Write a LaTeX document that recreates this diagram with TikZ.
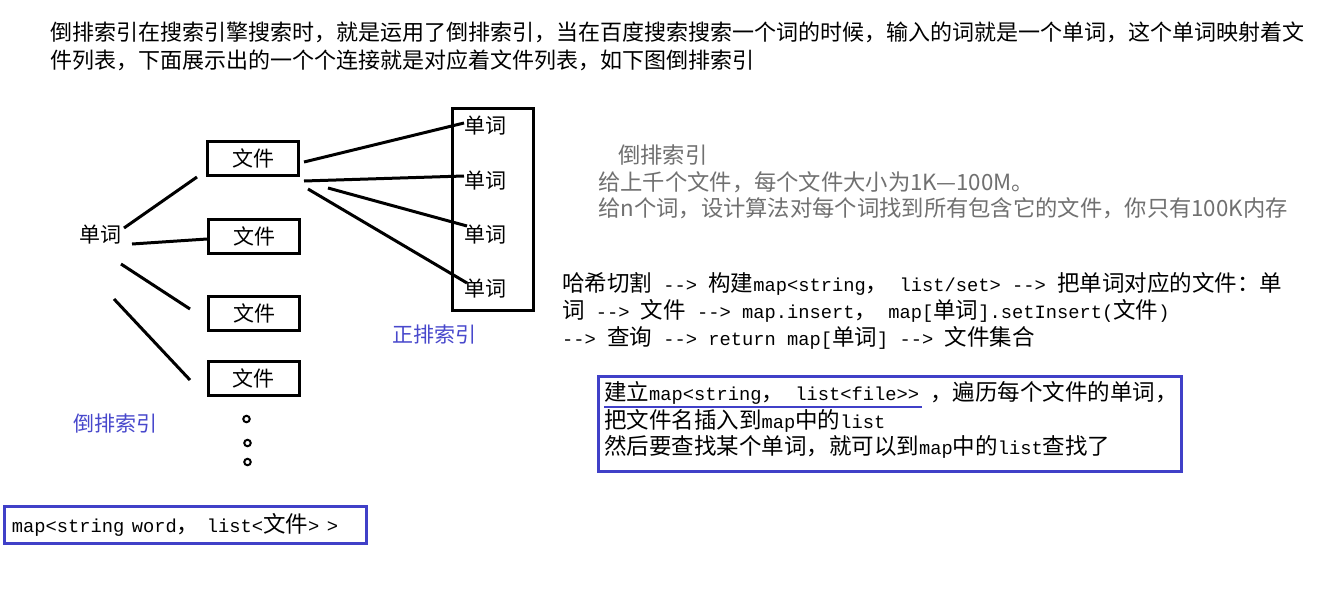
\documentclass[tikz,border=0pt]{standalone}
\usepackage{fontspec}
\setmainfont{Noto Sans CJK SC}
\newfontfamily\grayfont{Noto Sans CJK SC}
\setmonofont{Liberation Mono}[Scale=0.833]
\newcommand\arr{-\kern0pt-\kern0pt>}
\definecolor{idxblue}{RGB}{72,72,204}
\definecolor{boxblue}{RGB}{64,64,200}
\definecolor{notegray}{RGB}{112,112,112}
\tikzset{
  txt/.style={anchor=west, inner sep=0pt, font=\fontsize{22.5}{27}\selectfont},
  headtxt/.style={anchor=west, inner sep=0pt, font=\fontsize{22}{26}\selectfont},
  graytxt/.style={anchor=west, inner sep=0pt, text=notegray, font=\grayfont\fontsize{22.3}{26}\selectfont},
  filebox/.style={draw, line width=3pt, minimum width=91pt, minimum height=34pt, inner sep=0pt, font=\fontsize{21}{25}\selectfont},
  wordtxt/.style={inner sep=0pt, font=\fontsize{21}{25}\selectfont},
  bluelabel/.style={anchor=west, inner sep=0pt, text=idxblue, font=\fontsize{21}{25}\selectfont},
  link/.style={line width=3pt},
  framebox/.style={draw, line width=3pt, inner sep=0pt},
  bluebox/.style={draw=boxblue, line width=3pt, inner sep=0pt},
  dotmark/.style={circle, draw, line width=2pt, minimum size=6.5pt, inner sep=0pt},
}
\begin{document}
\begin{tikzpicture}[x=1pt,y=-1pt]
\useasboundingbox[fill=white] (0,0) rectangle (1329,600);

% header
\node[headtxt] (h1) at (50,32) {倒排索引在搜索引擎搜索时，就是运用了倒排索引，当在百度搜索搜索一个词的时候，输入的词就是一个单词，这个单词映射着文};
\node[headtxt] (h2) at (50,60) {件列表，下面展示出的一个个连接就是对应着文件列表，如下图倒排索引};

% left diagram
\node[wordtxt] (w) at (100,235) {单词};
\node[filebox] (f1) at (253,158.5) {文件};
\node[filebox] (f2) at (254,236.5) {文件};
\node[filebox] (f3) at (254,313) {文件};
\node[filebox] (f4) at (253.5,378) {文件};

\node[framebox, minimum width=81pt, minimum height=202pt] (rb) at (493,209.5) {};
\node[wordtxt] (r1) at (485.5,126) {单词};
\node[wordtxt] (r2) at (485.5,180.5) {单词};
\node[wordtxt] (r3) at (485.5,234.5) {单词};
\node[wordtxt] (r4) at (485.5,288.5) {单词};

\coordinate (a1) at (124,228); \coordinate (b1) at (197,177);
\coordinate (a2) at (132,244); \coordinate (b2) at (207,239);
\coordinate (a3) at (121,264); \coordinate (b3) at (190,309);
\coordinate (a4) at (114,299); \coordinate (b4) at (190,380);
\draw[link] (a1) -- (b1);
\draw[link] (a2) -- (b2);
\draw[link] (a3) -- (b3);
\draw[link] (a4) -- (b4);

\coordinate (c1) at (304,162); \coordinate (d1) at (464,123);
\coordinate (c2) at (304,181); \coordinate (d2) at (464,176);
\coordinate (c3) at (328,188); \coordinate (d3) at (467,226);
\coordinate (c4) at (308,189); \coordinate (d4) at (467,283);
\draw[link] (c1) -- (d1);
\draw[link] (c2) -- (d2);
\draw[link] (c3) -- (d3);
\draw[link] (c4) -- (d4);

\node[bluelabel] (zp) at (392,335) {正排索引};
\node[bluelabel] (dp) at (73,424) {倒排索引};

\node[dotmark] (o1) at (246.5,419) {};
\node[dotmark] (o2) at (247.5,443) {};
\node[dotmark] (o3) at (247.5,462) {};

\node[bluebox, minimum width=362pt, minimum height=37pt, inner xsep=7.5pt, text width=347pt, align=left, font=\fontsize{22.5}{27}\selectfont] (bl) at (185.5,525) {\texttt{map<string word}，\texttt{ list<}文件\texttt{> >}};

% gray note
\node[graytxt] (g1) at (618,155) {倒排索引};
\node[graytxt] (g2) at (598,182) {给上千个文件，每个文件大小为1K—100M。};
\node[graytxt] (g3) at (598,208) {给n个词，设计算法对每个词找到所有包含它的文件，你只有100K内存};

% middle text
\node[txt] (m1) at (562,284) {哈希切割\texttt{ \arr{} }构建\texttt{map<string}，\texttt{ list/set> \arr{} }把单词对应的文件：单};
\node[txt] (m2) at (562,311) {词\texttt{ \arr{} }文件\texttt{ \arr{} map.insert}，\texttt{ map[}单词\texttt{].setInsert(}文件\texttt{)}};
\node[txt] (m3) at (562,338) {\texttt{\arr{} }查询\texttt{ \arr{} return map[}单词\texttt{] \arr{} }文件集合};

% right blue box
\node[bluebox, minimum width=583pt, minimum height=95pt] (nb) at (890,424) {};
\node[txt] (n1) at (604,393) {建立\texttt{map<string}，\texttt{ list<file>> }，遍历每个文件的单词，};
\node[txt] (n2) at (604,421) {把文件名插入到\texttt{map}中的\texttt{list}};
\node[txt] (n3) at (604,447) {然后要查找某个单词，就可以到\texttt{map}中的\texttt{list}查找了};
\coordinate (u1) at (604,407); \coordinate (u2) at (922,407);
\draw[boxblue, line width=2pt] (u1) -- (u2);
\end{tikzpicture}
\end{document}
